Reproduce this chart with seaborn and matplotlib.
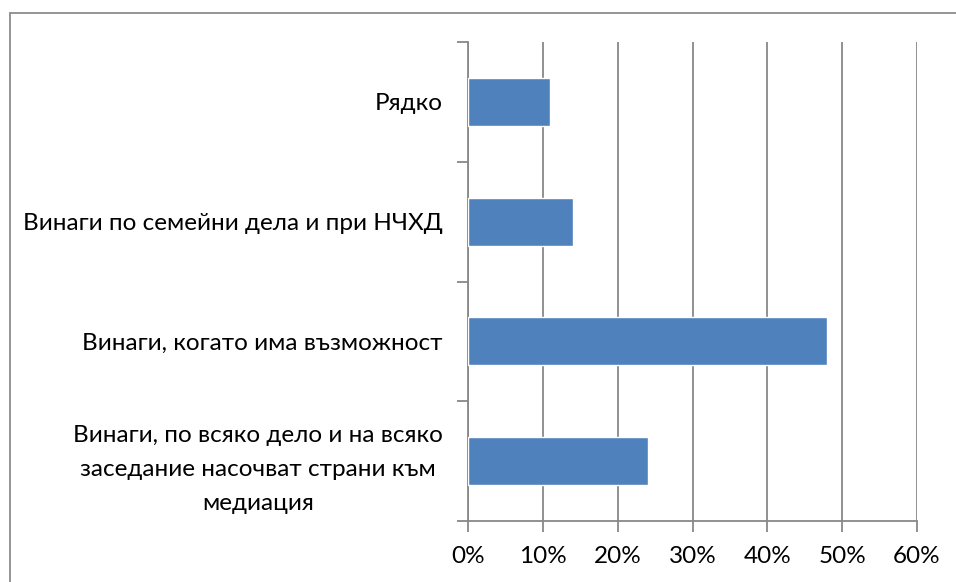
import matplotlib
matplotlib.use("Agg")
import matplotlib.pyplot as plt
import seaborn as sns
import pandas as pd
from matplotlib.lines import Line2D
from matplotlib.ticker import FixedLocator, PercentFormatter

categories = [
    "Рядко",
    "Винаги по семейни дела и при НЧХД",
    "Винаги, когато има възможност",
    "Винаги, по всяко дело и на всяко\nзаседание насочват страни към\nмедиация",
]
values = [11, 14, 48, 24]
x_ticks = [0, 10, 20, 30, 40, 50, 60]

sns.set_style("white")
plt.rcParams["font.family"] = ["Lato", "DejaVu Sans"]

df = pd.DataFrame({"cat": categories, "val": values})

fig = plt.figure(figsize=(9.56, 5.82), dpi=100)
ax = fig.add_axes([468 / 956, 61 / 582, (917 - 468) / 956, (521 - 42) / 582])

grid_color = "#888888"
fs = 17.5
sns.barplot(data=df, x="val", y="cat", orient="h", color="#4F81BD",
            saturation=1, width=0.4, ax=ax, zorder=3)

ax.set_xlim(0, 60)
ax.set_ylim(3.5, -0.5)
ax.set_xticks(x_ticks)
ax.xaxis.set_major_formatter(PercentFormatter(decimals=0))
ax.set_xlabel("")
ax.set_ylabel("")

# y: ticks at category boundaries, labels at centers
ax.yaxis.set_major_locator(FixedLocator([-0.5, 0.5, 1.5, 2.5, 3.5]))
ax.yaxis.set_minor_locator(FixedLocator(list(range(len(categories)))))
ax.set_yticklabels([], minor=False)
ax.tick_params(axis="y", which="major", length=8, width=1.3, color=grid_color, direction="out", left=True)
ax.tick_params(axis="y", which="minor", length=0, pad=18, labelsize=fs, labelcolor="black")
ax.set_yticklabels(categories, minor=True, linespacing=1.75, multialignment="center")

ax.tick_params(axis="x", which="major", length=8, width=1.3, color=grid_color, direction="out",
               bottom=True, pad=10, labelsize=fs, labelcolor="black")

ax.grid(axis="x", color=grid_color, linewidth=1.3, zorder=0)
ax.grid(axis="y", visible=False)
for s in ["top", "right"]:
    ax.spines[s].set_visible(False)
for s in ["left", "bottom"]:
    ax.spines[s].set_color(grid_color)
    ax.spines[s].set_linewidth(1.3)

# outer chart border (extends beyond right/bottom)
fig.add_artist(Line2D([10 / 956, 10 / 956], [0, 1 - 13 / 582], transform=fig.transFigure,
                      color="#8c8c8c", linewidth=1.3))
fig.add_artist(Line2D([10 / 956, 1], [1 - 13 / 582, 1 - 13 / 582], transform=fig.transFigure,
                      color="#8c8c8c", linewidth=1.3))

fig.savefig("out.png", dpi=100)
